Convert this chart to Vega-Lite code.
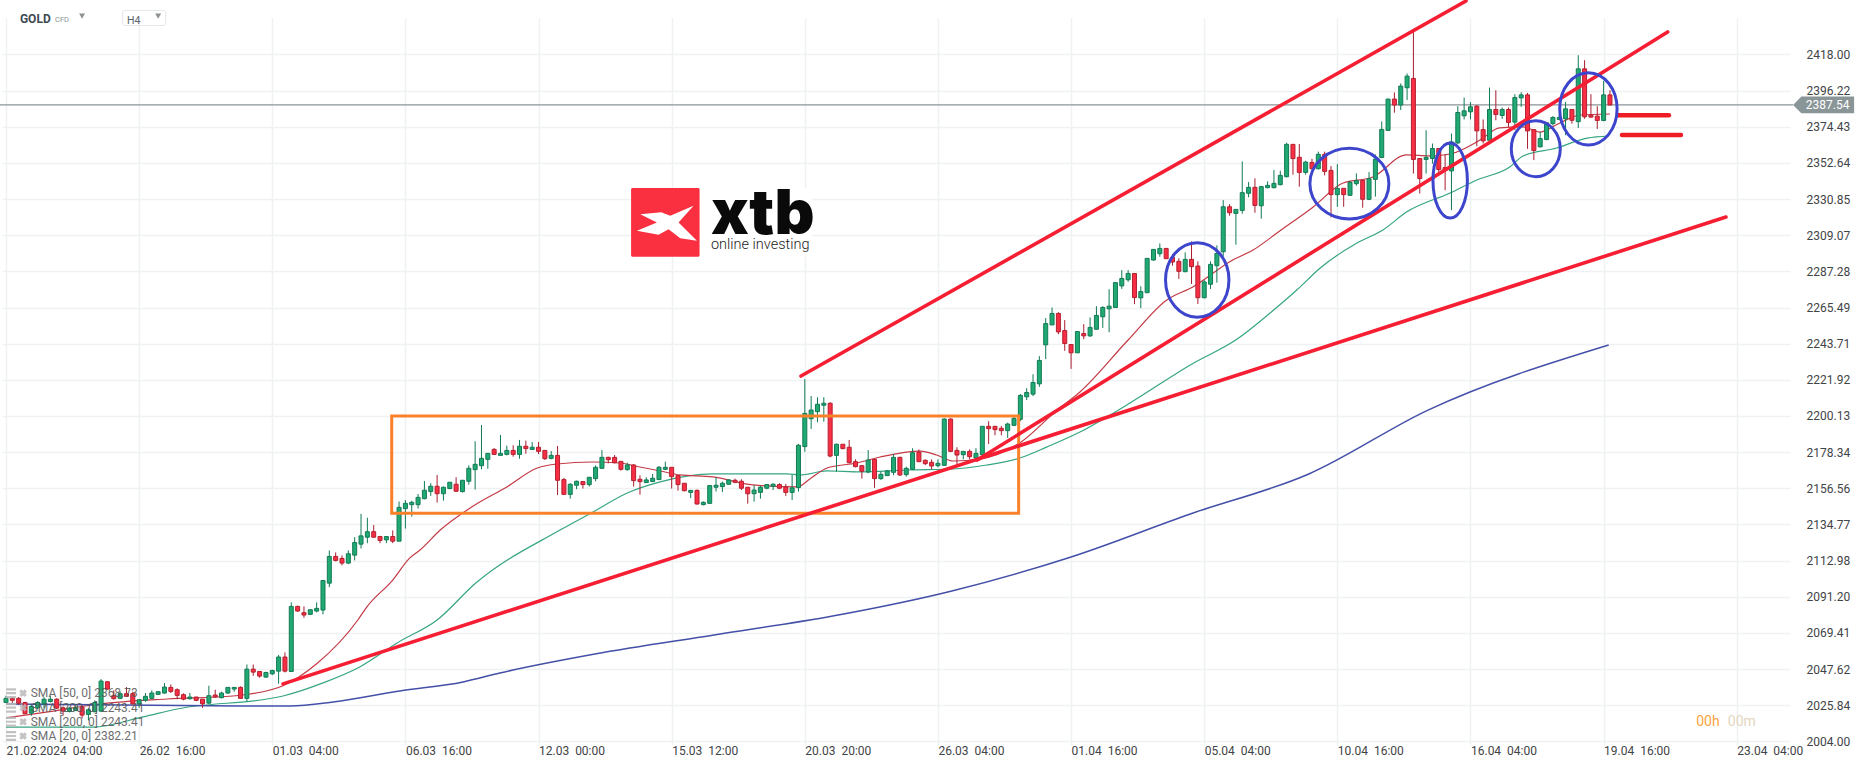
{
  "$schema": "https://vega.github.io/schema/vega-lite/v6.json",
  "width": 1788,
  "height": 727,
  "autosize": {"type": "none"},
  "padding": {"left": 2, "top": 18, "right": 76, "bottom": 22},
  "background": "#ffffff",
  "config": {
    "view": {"stroke": null},
    "font": "Roboto",
    "axis": {"title": null, "domain": false, "ticks": false, "gridColor": "#f0f1f2", "gridWidth": 1.5, "labelFont": "Roboto", "labelFontSize": 12, "labelColor": "#3f4446", "labelOverlap": false, "labelBound": false, "labelFlush": false}
  },
  "datasets": {
    "candles": [
      {"i":0,"o":2027.5,"c":2030.0,"h":2031.6,"l":2027.1},{"i":1,"o":2030.0,"c":2028.8,"h":2030.8,"l":2027.1},{"i":2,"o":2030.0,"c":2027.1,"h":2030.8,"l":2026.1},{"i":3,"o":2027.5,"c":2020.7,"h":2027.9,"l":2020.7},{"i":4,"o":2021.1,"c":2025.1,"h":2026.1,"l":2019.5},{"i":5,"o":2024.3,"c":2027.5,"h":2028.3,"l":2023.5},{"i":6,"o":2026.7,"c":2029.5,"h":2030.8,"l":2024.1},{"i":7,"o":2028.1,"c":2029.5,"h":2031.6,"l":2027.5},{"i":8,"o":2029.5,"c":2024.1,"h":2030.1,"l":2023.5},{"i":9,"o":2024.3,"c":2022.3,"h":2025.1,"l":2019.5},
      {"i":10,"o":2022.1,"c":2024.1,"h":2024.7,"l":2021.5},{"i":11,"o":2022.7,"c":2024.3,"h":2026.1,"l":2022.3},{"i":12,"o":2024.7,"c":2019.9,"h":2026.1,"l":2017.9},{"i":13,"o":2020.3,"c":2023.1,"h":2024.1,"l":2016.7},{"i":14,"o":2021.9,"c":2027.5,"h":2028.8,"l":2021.9},{"i":15,"o":2022.3,"c":2040.4,"h":2041.6,"l":2021.9},{"i":16,"o":2040.0,"c":2035.6,"h":2040.4,"l":2035.2},{"i":17,"o":2031.6,"c":2029.8,"h":2034.8,"l":2029.2},{"i":18,"o":2030.0,"c":2032.8,"h":2034.2,"l":2029.5},{"i":19,"o":2032.8,"c":2031.2,"h":2036.8,"l":2030.8},
      {"i":20,"o":2032.8,"c":2026.7,"h":2034.0,"l":2026.3},{"i":21,"o":2026.7,"c":2029.2,"h":2029.5,"l":2024.3},{"i":22,"o":2028.8,"c":2031.2,"h":2033.2,"l":2027.9},{"i":23,"o":2030.0,"c":2033.2,"h":2034.8,"l":2029.5},{"i":24,"o":2032.4,"c":2034.0,"h":2034.4,"l":2032.0},{"i":25,"o":2033.2,"c":2036.8,"h":2039.2,"l":2032.8},{"i":26,"o":2036.6,"c":2034.2,"h":2038.4,"l":2033.2},{"i":27,"o":2035.2,"c":2031.8,"h":2036.0,"l":2029.5},{"i":28,"o":2032.2,"c":2029.5,"h":2033.0,"l":2028.8},{"i":29,"o":2029.8,"c":2030.8,"h":2033.2,"l":2029.2},
      {"i":30,"o":2030.8,"c":2028.8,"h":2030.8,"l":2028.3},{"i":31,"o":2029.5,"c":2026.7,"h":2029.5,"l":2024.3},{"i":32,"o":2027.1,"c":2031.6,"h":2037.6,"l":2026.7},{"i":33,"o":2032.0,"c":2030.8,"h":2035.2,"l":2030.4},{"i":34,"o":2030.4,"c":2033.2,"h":2034.0,"l":2030.0},{"i":35,"o":2033.2,"c":2036.6,"h":2036.6,"l":2032.8},{"i":36,"o":2035.6,"c":2036.6,"h":2036.8,"l":2034.0},{"i":37,"o":2036.6,"c":2030.0,"h":2037.2,"l":2030.0},{"i":38,"o":2030.0,"c":2047.6,"h":2050.4,"l":2028.1},{"i":39,"o":2047.6,"c":2045.8,"h":2050.4,"l":2043.6},
      {"i":40,"o":2046.2,"c":2043.4,"h":2046.2,"l":2042.4},{"i":41,"o":2042.8,"c":2045.6,"h":2046.0,"l":2042.4},{"i":42,"o":2044.8,"c":2046.8,"h":2047.2,"l":2044.0},{"i":43,"o":2046.4,"c":2054.9,"h":2056.1,"l":2038.8},{"i":44,"o":2054.9,"c":2046.4,"h":2057.7,"l":2045.6},{"i":45,"o":2046.2,"c":2085.4,"h":2087.8,"l":2046.2},{"i":46,"o":2085.4,"c":2082.6,"h":2085.8,"l":2082.2},{"i":47,"o":2081.6,"c":2080.2,"h":2085.4,"l":2078.5},{"i":48,"o":2080.6,"c":2083.4,"h":2083.4,"l":2080.2},{"i":49,"o":2082.6,"c":2084.2,"h":2087.8,"l":2081.8},
      {"i":50,"o":2083.2,"c":2101.0,"h":2101.0,"l":2080.6},{"i":51,"o":2099.4,"c":2115.5,"h":2119.1,"l":2097.0},{"i":52,"o":2115.5,"c":2113.1,"h":2117.9,"l":2112.5},{"i":53,"o":2114.3,"c":2111.5,"h":2116.1,"l":2110.1},{"i":54,"o":2111.5,"c":2117.1,"h":2119.1,"l":2110.9},{"i":55,"o":2116.3,"c":2123.9,"h":2127.1,"l":2113.1},{"i":56,"o":2122.9,"c":2127.9,"h":2141.2,"l":2120.3},{"i":57,"o":2127.1,"c":2130.4,"h":2138.8,"l":2123.5},{"i":58,"o":2130.4,"c":2127.1,"h":2134.4,"l":2126.7},{"i":59,"o":2127.5,"c":2125.1,"h":2127.9,"l":2123.5},
      {"i":60,"o":2125.5,"c":2127.5,"h":2127.5,"l":2123.5},{"i":61,"o":2127.5,"c":2124.7,"h":2131.2,"l":2123.5},{"i":62,"o":2124.7,"c":2145.1,"h":2148.6,"l":2124.7},{"i":63,"o":2144.3,"c":2147.5,"h":2149.5,"l":2132.3},{"i":64,"o":2146.7,"c":2148.1,"h":2149.1,"l":2139.5},{"i":65,"o":2146.7,"c":2151.1,"h":2153.1,"l":2144.3},{"i":66,"o":2150.3,"c":2155.4,"h":2161.0,"l":2149.9},{"i":67,"o":2154.6,"c":2157.8,"h":2159.6,"l":2152.0},{"i":68,"o":2157.8,"c":2153.3,"h":2164.6,"l":2148.0},{"i":69,"o":2153.3,"c":2157.2,"h":2157.6,"l":2149.1},
      {"i":70,"o":2156.4,"c":2160.2,"h":2160.2,"l":2156.0},{"i":71,"o":2159.0,"c":2154.8,"h":2163.2,"l":2154.3},{"i":72,"o":2154.6,"c":2161.4,"h":2161.4,"l":2154.0},{"i":73,"o":2160.8,"c":2168.6,"h":2170.4,"l":2158.8},{"i":74,"o":2167.8,"c":2171.0,"h":2184.9,"l":2155.8},{"i":75,"o":2170.2,"c":2174.6,"h":2194.7,"l":2168.0},{"i":76,"o":2174.0,"c":2177.6,"h":2177.6,"l":2168.4},{"i":77,"o":2180.0,"c":2177.0,"h":2180.8,"l":2176.6},{"i":78,"o":2176.4,"c":2177.6,"h":2188.7,"l":2176.4},{"i":79,"o":2177.0,"c":2179.4,"h":2182.3,"l":2176.4},
      {"i":80,"o":2179.4,"c":2177.0,"h":2182.5,"l":2175.6},{"i":81,"o":2177.0,"c":2181.9,"h":2185.7,"l":2174.4},{"i":82,"o":2181.9,"c":2180.5,"h":2185.3,"l":2177.4},{"i":83,"o":2180.0,"c":2181.3,"h":2184.5,"l":2179.6},{"i":84,"o":2181.3,"c":2178.8,"h":2184.5,"l":2177.2},{"i":85,"o":2179.4,"c":2174.4,"h":2179.4,"l":2173.6},{"i":86,"o":2174.6,"c":2176.4,"h":2179.0,"l":2174.0},{"i":87,"o":2176.4,"c":2161.4,"h":2182.1,"l":2152.5},{"i":88,"o":2161.8,"c":2152.9,"h":2162.8,"l":2152.7},{"i":89,"o":2152.9,"c":2159.0,"h":2159.6,"l":2150.3},
      {"i":90,"o":2158.4,"c":2160.8,"h":2161.2,"l":2156.0},{"i":91,"o":2160.6,"c":2158.8,"h":2160.6,"l":2156.4},{"i":92,"o":2158.8,"c":2163.2,"h":2163.2,"l":2157.6},{"i":93,"o":2162.4,"c":2169.2,"h":2170.4,"l":2160.8},{"i":94,"o":2168.6,"c":2175.2,"h":2179.6,"l":2168.4},{"i":95,"o":2175.2,"c":2173.8,"h":2175.6,"l":2171.6},{"i":96,"o":2175.2,"c":2172.0,"h":2176.6,"l":2171.6},{"i":97,"o":2172.8,"c":2168.0,"h":2172.8,"l":2167.2},{"i":98,"o":2167.8,"c":2170.6,"h":2172.0,"l":2167.2},{"i":99,"o":2170.6,"c":2161.2,"h":2171.2,"l":2157.6},
      {"i":100,"o":2162.0,"c":2160.6,"h":2164.4,"l":2152.7},{"i":101,"o":2160.0,"c":2161.6,"h":2163.2,"l":2160.0},{"i":102,"o":2160.6,"c":2162.6,"h":2165.2,"l":2160.6},{"i":103,"o":2161.8,"c":2169.2,"h":2170.0,"l":2161.6},{"i":104,"o":2168.0,"c":2169.2,"h":2172.6,"l":2167.6},{"i":105,"o":2169.2,"c":2163.6,"h":2169.2,"l":2156.4},{"i":106,"o":2164.2,"c":2158.8,"h":2164.4,"l":2155.1},{"i":107,"o":2159.6,"c":2155.1,"h":2159.6,"l":2154.7},{"i":108,"o":2154.1,"c":2155.3,"h":2155.5,"l":2150.7},{"i":109,"o":2155.3,"c":2147.1,"h":2155.9,"l":2146.7},
      {"i":110,"o":2146.7,"c":2148.1,"h":2148.7,"l":2146.3},{"i":111,"o":2147.5,"c":2158.2,"h":2158.2,"l":2147.3},{"i":112,"o":2157.2,"c":2158.4,"h":2163.2,"l":2154.6},{"i":113,"o":2157.6,"c":2159.6,"h":2160.6,"l":2154.3},{"i":114,"o":2159.0,"c":2161.6,"h":2162.0,"l":2158.6},{"i":115,"o":2161.4,"c":2160.2,"h":2162.4,"l":2159.6},{"i":116,"o":2160.8,"c":2156.6,"h":2162.0,"l":2155.5},{"i":117,"o":2157.2,"c":2153.3,"h":2157.2,"l":2147.3},{"i":118,"o":2153.3,"c":2155.5,"h":2158.4,"l":2148.5},{"i":119,"o":2154.1,"c":2157.2,"h":2158.0,"l":2150.3},
      {"i":120,"o":2156.6,"c":2158.8,"h":2159.2,"l":2156.0},{"i":121,"o":2157.8,"c":2159.0,"h":2159.6,"l":2155.5},{"i":122,"o":2158.8,"c":2156.6,"h":2159.6,"l":2156.0},{"i":123,"o":2157.4,"c":2154.1,"h":2159.2,"l":2152.0},{"i":124,"o":2154.1,"c":2156.8,"h":2164.6,"l":2149.5},{"i":125,"o":2157.0,"c":2182.5,"h":2183.3,"l":2154.6},{"i":126,"o":2181.7,"c":2201.7,"h":2222.4,"l":2178.6},{"i":127,"o":2198.5,"c":2203.7,"h":2212.2,"l":2192.3},{"i":128,"o":2202.7,"c":2207.2,"h":2211.4,"l":2196.3},{"i":129,"o":2206.6,"c":2207.8,"h":2211.4,"l":2196.7},
      {"i":130,"o":2207.8,"c":2176.0,"h":2208.4,"l":2175.2},{"i":131,"o":2176.4,"c":2183.1,"h":2183.5,"l":2166.6},{"i":132,"o":2183.1,"c":2180.5,"h":2183.1,"l":2180.0},{"i":133,"o":2181.3,"c":2172.0,"h":2185.7,"l":2171.6},{"i":134,"o":2172.6,"c":2169.6,"h":2174.0,"l":2169.2},{"i":135,"o":2170.2,"c":2166.8,"h":2170.6,"l":2162.4},{"i":136,"o":2166.4,"c":2173.6,"h":2179.6,"l":2165.6},{"i":137,"o":2174.0,"c":2162.4,"h":2174.0,"l":2156.8},{"i":138,"o":2162.4,"c":2165.0,"h":2166.6,"l":2161.6},{"i":139,"o":2164.2,"c":2167.0,"h":2167.6,"l":2164.0},
      {"i":140,"o":2166.2,"c":2175.2,"h":2177.2,"l":2164.4},{"i":141,"o":2175.2,"c":2164.6,"h":2175.6,"l":2164.0},{"i":142,"o":2164.8,"c":2168.6,"h":2169.6,"l":2163.6},{"i":143,"o":2168.0,"c":2178.0,"h":2180.7,"l":2167.6},{"i":144,"o":2178.4,"c":2172.6,"h":2180.0,"l":2172.4},{"i":145,"o":2173.4,"c":2171.4,"h":2174.0,"l":2170.6},{"i":146,"o":2172.2,"c":2170.0,"h":2174.0,"l":2168.0},{"i":147,"o":2170.2,"c":2171.6,"h":2174.0,"l":2169.2},{"i":148,"o":2170.4,"c":2198.3,"h":2198.7,"l":2170.0},{"i":149,"o":2198.3,"c":2178.8,"h":2198.7,"l":2178.4},
      {"i":150,"o":2179.4,"c":2176.6,"h":2181.3,"l":2170.6},{"i":151,"o":2176.8,"c":2178.8,"h":2178.8,"l":2174.0},{"i":152,"o":2178.8,"c":2175.6,"h":2180.0,"l":2174.0},{"i":153,"o":2174.8,"c":2177.6,"h":2180.7,"l":2174.0},{"i":154,"o":2176.8,"c":2193.9,"h":2193.9,"l":2176.4},{"i":155,"o":2193.9,"c":2192.5,"h":2196.9,"l":2183.3},{"i":156,"o":2193.9,"c":2191.9,"h":2193.9,"l":2188.5},{"i":157,"o":2192.7,"c":2191.3,"h":2194.1,"l":2188.5},{"i":158,"o":2191.3,"c":2195.3,"h":2196.1,"l":2186.9},{"i":159,"o":2194.5,"c":2198.7,"h":2200.1,"l":2194.1},
      {"i":160,"o":2198.1,"c":2212.5,"h":2213.4,"l":2197.0},{"i":161,"o":2211.7,"c":2214.3,"h":2216.9,"l":2209.7},{"i":162,"o":2213.3,"c":2220.3,"h":2225.3,"l":2212.1},{"i":163,"o":2219.5,"c":2233.6,"h":2236.2,"l":2217.7},{"i":164,"o":2243.0,"c":2255.8,"h":2259.1,"l":2234.4},{"i":165,"o":2255.0,"c":2261.9,"h":2265.5,"l":2255.0},{"i":166,"o":2261.9,"c":2250.8,"h":2262.7,"l":2249.4},{"i":167,"o":2251.6,"c":2243.8,"h":2257.9,"l":2239.4},{"i":168,"o":2243.2,"c":2238.2,"h":2243.2,"l":2228.5},{"i":169,"o":2238.2,"c":2251.0,"h":2251.0,"l":2238.2},
      {"i":170,"o":2249.8,"c":2248.4,"h":2255.5,"l":2246.4},{"i":171,"o":2248.4,"c":2253.5,"h":2259.5,"l":2247.8},{"i":172,"o":2252.4,"c":2260.7,"h":2266.3,"l":2252.2},{"i":173,"o":2259.9,"c":2265.5,"h":2266.3,"l":2253.2},{"i":174,"o":2264.7,"c":2266.3,"h":2276.5,"l":2250.6},{"i":175,"o":2265.5,"c":2280.5,"h":2280.5,"l":2265.5},{"i":176,"o":2278.5,"c":2283.0,"h":2288.0,"l":2276.7},{"i":177,"o":2282.2,"c":2286.0,"h":2288.0,"l":2281.0},{"i":178,"o":2286.0,"c":2271.5,"h":2286.0,"l":2267.5},{"i":179,"o":2271.3,"c":2275.1,"h":2278.3,"l":2265.1},
      {"i":180,"o":2274.4,"c":2295.1,"h":2295.1,"l":2274.4},{"i":181,"o":2294.1,"c":2300.5,"h":2300.5,"l":2293.7},{"i":182,"o":2297.9,"c":2301.1,"h":2304.1,"l":2296.1},{"i":183,"o":2301.1,"c":2294.9,"h":2301.1,"l":2294.9},{"i":184,"o":2295.7,"c":2292.9,"h":2297.7,"l":2290.7},{"i":185,"o":2293.3,"c":2287.3,"h":2295.1,"l":2282.7},{"i":186,"o":2287.1,"c":2294.5,"h":2298.7,"l":2286.7},{"i":187,"o":2294.5,"c":2290.1,"h":2305.3,"l":2279.7},{"i":188,"o":2290.5,"c":2271.4,"h":2293.3,"l":2267.6},{"i":189,"o":2271.4,"c":2280.9,"h":2282.1,"l":2271.0},
      {"i":190,"o":2279.5,"c":2291.5,"h":2293.3,"l":2276.6},{"i":191,"o":2290.7,"c":2298.1,"h":2302.9,"l":2280.5},{"i":192,"o":2299.1,"c":2326.2,"h":2330.2,"l":2296.1},{"i":193,"o":2326.2,"c":2322.6,"h":2327.8,"l":2320.8},{"i":194,"o":2322.2,"c":2324.6,"h":2324.6,"l":2303.3},{"i":195,"o":2324.0,"c":2334.7,"h":2353.5,"l":2322.0},{"i":196,"o":2334.3,"c":2337.9,"h":2341.1,"l":2331.9},{"i":197,"o":2337.9,"c":2327.0,"h":2343.3,"l":2322.6},{"i":198,"o":2326.8,"c":2338.3,"h":2338.7,"l":2319.0},{"i":199,"o":2337.7,"c":2339.1,"h":2341.5,"l":2337.3},
      {"i":200,"o":2337.7,"c":2340.3,"h":2348.3,"l":2337.3},{"i":201,"o":2339.5,"c":2345.1,"h":2347.9,"l":2339.1},{"i":202,"o":2344.3,"c":2363.8,"h":2364.8,"l":2343.9},{"i":203,"o":2363.8,"c":2355.2,"h":2363.8,"l":2345.5},{"i":204,"o":2356.0,"c":2346.9,"h":2364.0,"l":2338.3},{"i":205,"o":2346.9,"c":2353.1,"h":2353.9,"l":2345.5},{"i":206,"o":2352.9,"c":2349.1,"h":2355.1,"l":2348.7},{"i":207,"o":2349.1,"c":2357.8,"h":2359.4,"l":2348.7},{"i":208,"o":2357.8,"c":2347.5,"h":2359.4,"l":2345.1},{"i":209,"o":2348.1,"c":2333.5,"h":2350.7,"l":2319.8},
      {"i":210,"o":2333.5,"c":2337.3,"h":2351.9,"l":2326.2},{"i":211,"o":2337.3,"c":2333.5,"h":2337.3,"l":2326.2},{"i":212,"o":2333.1,"c":2340.9,"h":2341.9,"l":2332.7},{"i":213,"o":2340.1,"c":2341.9,"h":2346.3,"l":2338.9},{"i":214,"o":2342.1,"c":2330.7,"h":2342.1,"l":2325.6},{"i":215,"o":2330.7,"c":2343.1,"h":2347.1,"l":2330.2},{"i":216,"o":2342.7,"c":2354.9,"h":2357.7,"l":2332.3},{"i":217,"o":2355.9,"c":2372.8,"h":2377.6,"l":2355.5},{"i":218,"o":2372.2,"c":2391.1,"h":2391.1,"l":2372.0},{"i":219,"o":2391.1,"c":2387.5,"h":2395.1,"l":2382.9},
      {"i":220,"o":2387.5,"c":2398.9,"h":2400.5,"l":2384.5},{"i":221,"o":2397.9,"c":2404.9,"h":2406.5,"l":2390.5},{"i":222,"o":2403.5,"c":2354.7,"h":2431.6,"l":2346.2},{"i":223,"o":2355.3,"c":2343.2,"h":2355.3,"l":2334.2},{"i":224,"o":2354.7,"c":2355.9,"h":2372.3,"l":2346.2},{"i":225,"o":2355.3,"c":2361.3,"h":2364.3,"l":2352.2},{"i":226,"o":2361.3,"c":2348.6,"h":2361.3,"l":2346.2},{"i":227,"o":2349.8,"c":2348.2,"h":2357.9,"l":2336.2},{"i":228,"o":2347.8,"c":2365.3,"h":2370.3,"l":2324.1},{"i":229,"o":2364.7,"c":2383.0,"h":2386.8,"l":2363.9},
      {"i":230,"o":2381.0,"c":2384.0,"h":2392.0,"l":2378.8},{"i":231,"o":2383.4,"c":2386.4,"h":2389.2,"l":2378.8},{"i":232,"o":2386.8,"c":2371.9,"h":2387.4,"l":2362.7},{"i":233,"o":2372.7,"c":2365.9,"h":2378.8,"l":2364.3},{"i":234,"o":2366.3,"c":2384.8,"h":2398.0,"l":2365.3},{"i":235,"o":2384.8,"c":2381.8,"h":2396.4,"l":2378.3},{"i":236,"o":2381.2,"c":2384.8,"h":2386.0,"l":2379.2},{"i":237,"o":2384.8,"c":2377.0,"h":2386.0,"l":2374.3},{"i":238,"o":2377.2,"c":2392.0,"h":2394.0,"l":2372.3},{"i":239,"o":2391.8,"c":2393.6,"h":2395.2,"l":2386.4},
      {"i":240,"o":2393.6,"c":2371.9,"h":2394.8,"l":2361.1},{"i":241,"o":2372.7,"c":2360.1,"h":2372.7,"l":2354.3},{"i":242,"o":2362.3,"c":2367.3,"h":2371.3,"l":2361.9},{"i":243,"o":2366.7,"c":2376.8,"h":2377.3,"l":2366.3},{"i":244,"o":2376.3,"c":2380.0,"h":2380.8,"l":2375.1},{"i":245,"o":2378.8,"c":2380.0,"h":2381.4,"l":2378.3},{"i":246,"o":2379.2,"c":2385.2,"h":2389.4,"l":2369.3},{"i":247,"o":2384.8,"c":2378.3,"h":2384.8,"l":2376.3},{"i":248,"o":2377.5,"c":2409.3,"h":2417.5,"l":2373.7},{"i":249,"o":2409.3,"c":2380.4,"h":2414.5,"l":2379.2},
      {"i":250,"o":2381.4,"c":2380.2,"h":2394.0,"l":2380.0},{"i":251,"o":2380.8,"c":2378.2,"h":2386.8,"l":2373.1},{"i":252,"o":2378.2,"c":2393.6,"h":2402.1,"l":2377.7},{"i":253,"o":2393.6,"c":2387.54,"h":2396.4,"l":2387.2}
    ],
    "sma20": [
      {"i":0,"p":2018.2},{"i":6.9,"p":2022.0},{"i":14.8,"p":2026.6},{"i":25.4,"p":2029.6},{"i":35.8,"p":2031.4},{"i":38.5,"p":2032.6},{"i":43.7,"p":2037.6},{"i":49.1,"p":2051.1},{"i":55.5,"p":2077.2},{"i":56.9,"p":2085.0},{"i":61,"p":2101.3},{"i":63.7,"p":2114.6},{"i":65.3,"p":2119.4},{"i":68.5,"p":2131.4},{"i":73.7,"p":2145.9},{"i":79,"p":2157.4},{"i":83.8,"p":2168.8},{"i":86.9,"p":2171.2},{"i":92.6,"p":2172.4},{"i":96.8,"p":2171.8},{"i":100,"p":2169.4},{"i":103.2,"p":2167},{"i":106.3,"p":2164.6},{"i":111.5,"p":2163.4},{"i":117.8,"p":2158.6},{"i":124.8,"p":2157.4},{"i":126.8,"p":2162.2},{"i":129.5,"p":2168.8},{"i":134.2,"p":2171.8},{"i":137.9,"p":2175.4},{"i":144.2,"p":2179},{"i":146.8,"p":2176.6},{"i":149.4,"p":2173},{"i":153.6,"p":2174.2},{"i":159.9,"p":2183.9},{"i":165.8,"p":2203.7},{"i":169.4,"p":2214.6},{"i":177,"p":2245.9},{"i":183.1,"p":2270},{"i":187.2,"p":2277.9},{"i":193.5,"p":2294.1},{"i":196.7,"p":2300.1},{"i":200.9,"p":2311.6},{"i":206.2,"p":2326.1},{"i":210.9,"p":2340.5},{"i":215.6,"p":2344.1},{"i":220.9,"p":2357.4},{"i":224.6,"p":2356.8},{"i":227.8,"p":2358},{"i":232.5,"p":2366.4},{"i":235.6,"p":2373.7},{"i":239.3,"p":2374.3},{"i":242,"p":2371.2},{"i":245.1,"p":2376.7},{"i":248.3,"p":2381.5},{"i":253,"p":2382.1}
    ],
    "sma50": [
      {"i":0,"p":2012.7},{"i":13.7,"p":2012.7},{"i":21.6,"p":2018.8},{"i":27,"p":2023.6},{"i":43.7,"p":2031.4},{"i":50,"p":2039.3},{"i":55.8,"p":2048.9},{"i":61.7,"p":2063.4},{"i":68,"p":2077.2},{"i":74.1,"p":2099.5},{"i":87.4,"p":2131.4},{"i":92.6,"p":2142.3},{"i":98,"p":2153.7},{"i":103.2,"p":2160.4},{"i":111.5,"p":2165.2},{"i":123.2,"p":2165.2},{"i":125.2,"p":2164.6},{"i":129.5,"p":2167},{"i":134.7,"p":2166.4},{"i":142.1,"p":2167.6},{"i":149.4,"p":2168.2},{"i":154.7,"p":2170.6},{"i":159.9,"p":2174.8},{"i":164.2,"p":2181.5},{"i":169.4,"p":2190.5},{"i":177.3,"p":2208},{"i":186.8,"p":2230.9},{"i":194.2,"p":2246.5},{"i":199.4,"p":2262.2},{"i":203.6,"p":2276},{"i":207.3,"p":2289.3},{"i":213.1,"p":2304.4},{"i":217.2,"p":2312.2},{"i":220.9,"p":2323},{"i":227.8,"p":2334.5},{"i":232,"p":2342.3},{"i":237.2,"p":2350.2},{"i":239.3,"p":2356.8},{"i":244.6,"p":2361.6},{"i":249.4,"p":2367.6},{"i":252.8,"p":2368.8}
    ],
    "sma200": [
      {"i":0,"p":2026.6},{"i":36.9,"p":2025.4},{"i":44.8,"p":2025.4},{"i":51.6,"p":2027.8},{"i":62.1,"p":2034.4},{"i":72.1,"p":2039.9},{"i":77.9,"p":2045.3},{"i":92.9,"p":2056.7},{"i":111.7,"p":2068.2},{"i":130.4,"p":2079.6},{"i":149.2,"p":2094.7},{"i":168,"p":2115.2},{"i":186.8,"p":2141.1},{"i":205.5,"p":2165.2},{"i":224.3,"p":2203.7},{"i":252.8,"p":2242.9}
    ],
    "trend": [
      {"id":"channel","i":125.4,"p":2224.2},{"id":"channel","i":230.3,"p":2450.2},
      {"id":"steep","i":153.2,"p":2173.6},{"id":"steep","i":262.1,"p":2431.5},
      {"id":"long","i":43.7,"p":2038.7},{"id":"long","i":271.3,"p":2320}
    ],
    "levels": [
      {"id":"upper","i":254.3,"p":2381.3},{"id":"upper","i":262.3,"p":2381.3},
      {"id":"lower","i":254.9,"p":2369.4},{"id":"lower","i":264.2,"p":2369.4}
    ],
    "smaLabels": [
      {"i":3.9,"p":2033.1,"t":"SMA [50, 0] 2368.73"},
      {"i":3.9,"p":2024.4,"t":"SMA [200, 0] 2243.41"},
      {"i":3.9,"p":2015.9,"t":"SMA [200, 0] 2243.41"},
      {"i":3.9,"p":2007.3,"t":"SMA [20, 0] 2382.21"}
    ],
    "smaIcons": [
      {"i":0.8,"p":2033.1},{"i":0.8,"p":2024.4},{"i":0.8,"p":2015.9},{"i":0.8,"p":2007.3}
    ],
    "smaCross": [
      {"i":2.7,"p":2033.1},{"i":2.7,"p":2024.4},{"i":2.7,"p":2015.9},{"i":2.7,"p":2007.3}
    ]
  },
  "encoding": {
    "x": {
      "field": "i",
      "type": "quantitative",
      "scale": {"domain": [-0.63, 281.4], "nice": false, "zero": false, "padding": 0},
      "axis": {
        "orient": "bottom",
        "values": [0,21,42,63,84,105,126,147,168,189,210,231,252,273],
        "grid": true,
        "labelAlign": "left",
        "labelBaseline": "top",
        "labelPadding": 0,
        "labelExpr": "{'0':'21.02.2024\u00a0\u00a004:00','21':'26.02\u00a0\u00a016:00','42':'01.03\u00a0\u00a004:00','63':'06.03\u00a0\u00a016:00','84':'12.03\u00a0\u00a000:00','105':'15.03\u00a0\u00a012:00','126':'20.03\u00a0\u00a020:00','147':'26.03\u00a0\u00a004:00','168':'01.04\u00a0\u00a016:00','189':'05.04\u00a0\u00a004:00','210':'10.04\u00a0\u00a016:00','231':'16.04\u00a0\u00a004:00','252':'19.04\u00a0\u00a016:00','273':'23.04\u00a0\u00a004:00'}[datum.value]"
      }
    },
    "y": {
      "field": "p",
      "type": "quantitative",
      "scale": {"domain": [2001.89, 2439.93], "nice": false, "zero": false},
      "axis": {
        "orient": "right",
        "values": [2418,2396.22,2374.43,2352.64,2330.85,2309.07,2287.28,2265.49,2243.71,2221.92,2200.13,2178.34,2156.56,2134.77,2112.98,2091.2,2069.41,2047.62,2025.84,2004],
        "format": ".2f",
        "grid": true,
        "labelAlign": "left",
        "labelPadding": 16
      }
    }
  },
  "layer": [
    {
      "data": {"values": [{"i":109.4,"i2":127.1,"p":2337.5,"p2":2296.1}]},
      "mark": {"type": "rect", "color": "#ffffff"},
      "encoding": {"x2": {"field": "i2"}, "y2": {"field": "p2"}}
    },
    {
      "data": {"values": [{"i":98.6,"i2":109.4,"p":2337.5,"p2":2296.1}]},
      "mark": {"type": "rect", "color": "#fa3040", "cornerRadius": 1.5},
      "encoding": {"x2": {"field": "i2"}, "y2": {"field": "p2"}}
    },
    {
      "data": {"values": [{"i":104.3,"p":2316.3}]},
      "mark": {"type": "point", "filled": true, "opacity": 1, "color": "#ffffff", "size": 3721, "shape": "M-0.885,-0.295L-0.197,-0.36L0.098,-0.24L0.863,-0.568L0.372,-0.022L0.973,0.579L0.426,0.492L0.044,0.197L-0.284,0.383L-0.995,0.251L-0.339,-0.022Z"}
    },
    {
      "data": {"values": [{"i":111.2,"p":2309.8,"t":"xtb"}]},
      "mark": {"type": "text", "font": "Inter", "fontWeight": 900, "fontSize": 62, "align": "left", "baseline": "alphabetic", "color": "#0a0a0a"},
      "encoding": {"text": {"field": "t"}}
    },
    {
      "data": {"values": [{"i":111.2,"p":2300.6,"t":"online investing"}]},
      "mark": {"type": "text", "font": "Roboto", "fontWeight": 300, "fontSize": 14.5, "align": "left", "baseline": "alphabetic", "color": "#222222"},
      "encoding": {"text": {"field": "t"}}
    },
    {
      "data": {"values": [{"i":-0.95,"i2":281.9,"p":2387.54}]},
      "mark": {"type": "rule", "color": "#8a9598", "strokeWidth": 1.2},
      "encoding": {"x2": {"field": "i2"}}
    },
    {
      "data": {"name": "sma50"},
      "mark": {"type": "line", "color": "#35a582", "strokeWidth": 1.2, "interpolate": "monotone"}
    },
    {
      "data": {"name": "sma20"},
      "mark": {"type": "line", "color": "#c43a45", "strokeWidth": 1.2, "interpolate": "monotone"}
    },
    {
      "data": {"name": "sma200"},
      "mark": {"type": "line", "color": "#4450a8", "strokeWidth": 1.5, "interpolate": "monotone"}
    },
    {
      "data": {"name": "candles"},
      "mark": {"type": "rule", "strokeWidth": 1},
      "encoding": {
        "y": {"field": "h", "type": "quantitative", "scale": {"domain": [2001.89, 2439.93], "nice": false, "zero": false}, "axis": {"orient": "right", "values": [2418,2396.22,2374.43,2352.64,2330.85,2309.07,2287.28,2265.49,2243.71,2221.92,2200.13,2178.34,2156.56,2134.77,2112.98,2091.2,2069.41,2047.62,2025.84,2004], "format": ".2f", "grid": true, "labelAlign": "left", "labelPadding": 16}},
        "y2": {"field": "l"},
        "color": {"condition": {"test": "datum.c >= datum.o", "value": "#0f7a55"}, "value": "#a81c30"}
      }
    },
    {
      "data": {"name": "candles"},
      "mark": {"type": "bar", "size": 4, "orient": "vertical", "strokeWidth": 1},
      "encoding": {
        "y": {"field": "o", "type": "quantitative", "scale": {"domain": [2001.89, 2439.93], "nice": false, "zero": false}, "axis": {"orient": "right", "values": [2418,2396.22,2374.43,2352.64,2330.85,2309.07,2287.28,2265.49,2243.71,2221.92,2200.13,2178.34,2156.56,2134.77,2112.98,2091.2,2069.41,2047.62,2025.84,2004], "format": ".2f", "grid": true, "labelAlign": "left", "labelPadding": 16}},
        "y2": {"field": "c"},
        "fill": {"condition": {"test": "datum.c >= datum.o", "value": "#20a972"}, "value": "#f82e45"},
        "stroke": {"condition": {"test": "datum.c >= datum.o", "value": "#137a55"}, "value": "#b3202f"}
      }
    },
    {
      "data": {"values": [{"i":60.84,"i2":159.73,"p":2200.13,"p2":2141.5}]},
      "mark": {"type": "rect", "fill": null, "fillOpacity": 0, "stroke": "#f9812a", "strokeWidth": 3},
      "encoding": {"x2": {"field": "i2"}, "y2": {"field": "p2"}}
    },
    {
      "data": {"name": "trend"},
      "mark": {"type": "line", "color": "#f61e32", "strokeWidth": 3.6, "strokeCap": "round"},
      "encoding": {"detail": {"field": "id"}}
    },
    {
      "data": {"name": "levels"},
      "mark": {"type": "line", "color": "#ee1c25", "strokeWidth": 4.5, "strokeCap": "round"},
      "encoding": {"detail": {"field": "id"}}
    },
    {
      "data": {"values": [{"i":187.9,"p":2282.1}]},
      "mark": {"type": "point", "color": "#3d45cc", "strokeWidth": 3, "opacity": 1, "size": 5565, "shape": "M-0.85,0A0.85,1 0 1,1 0.85,0A0.85,1 0 1,1 -0.85,0Z"}
    },
    {
      "data": {"values": [{"i":211.9,"p":2340.1}]},
      "mark": {"type": "point", "color": "#3d45cc", "strokeWidth": 3, "opacity": 1, "size": 6241, "shape": "M-1,0A1,0.894 0 1,1 1,0A1,0.894 0 1,1 -1,0Z"}
    },
    {
      "data": {"values": [{"i":227.8,"p":2342.0}]},
      "mark": {"type": "point", "color": "#3d45cc", "strokeWidth": 3, "opacity": 1, "size": 5625, "shape": "M-0.459,0A0.459,1 0 1,1 0.459,0A0.459,1 0 1,1 -0.459,0Z"}
    },
    {
      "data": {"values": [{"i":241.3,"p":2361.2}]},
      "mark": {"type": "point", "color": "#3d45cc", "strokeWidth": 3, "opacity": 1, "size": 3136, "shape": "M-0.875,0A0.875,1 0 1,1 0.875,0A0.875,1 0 1,1 -0.875,0Z"}
    },
    {
      "data": {"values": [{"i":249.6,"p":2385.2}]},
      "mark": {"type": "point", "color": "#3d45cc", "strokeWidth": 3, "opacity": 1, "size": 5242, "shape": "M-0.793,0A0.793,1 0 1,1 0.793,0A0.793,1 0 1,1 -0.793,0Z"}
    },
    {
      "data": {"values": [{"i":286.7,"p":2387.54}]},
      "mark": {"type": "point", "filled": true, "opacity": 1, "color": "#8a9598", "size": 3721, "shape": "M-1,0L-0.73,-0.274L1,-0.274L1,0.274L-0.73,0.274Z"}
    },
    {
      "data": {"values": [{"i":283.9,"p":2387.54,"t":"2387.54"}]},
      "mark": {"type": "text", "fontSize": 12, "align": "left", "baseline": "middle", "color": "#ffffff"},
      "encoding": {"text": {"field": "t"}}
    },
    {
      "data": {"name": "smaIcons"},
      "mark": {"type": "point", "filled": true, "opacity": 0.85, "color": "#b9b9b9", "size": 100, "shape": "M-1,-1H1V-0.55H-1ZM-1,-0.22H1V0.22H-1ZM-1,0.55H1V1H-1Z"}
    },
    {
      "data": {"name": "smaCross"},
      "mark": {"type": "point", "filled": true, "opacity": 0.85, "color": "#b9b9b9", "size": 60, "shape": "cross", "angle": 45}
    },
    {
      "data": {"name": "smaLabels"},
      "mark": {"type": "text", "fontSize": 12, "align": "left", "baseline": "middle", "color": "#555555", "opacity": 0.85},
      "encoding": {"text": {"field": "t"}}
    },
    {
      "data": {"values": [{"i":2.2,"p":2439.3,"t":"GOLD"}]},
      "mark": {"type": "text", "fontSize": 12, "fontWeight": "bold", "align": "left", "baseline": "middle", "color": "#3d4a52"},
      "encoding": {"text": {"field": "t"}}
    },
    {
      "data": {"values": [{"i":7.73,"p":2439.0,"t":"CFD"}]},
      "mark": {"type": "text", "fontSize": 7.5, "align": "left", "baseline": "middle", "color": "#8a9498"},
      "encoding": {"text": {"field": "t"}}
    },
    {
      "data": {"values": [{"i":12,"p":2441.1},{"i":24,"p":2441.1}]},
      "mark": {"type": "point", "filled": true, "opacity": 1, "color": "#8d9295", "size": 36, "shape": "triangle-down"}
    },
    {
      "data": {"values": [{"i":18.4,"i2":25.2,"p":2444.5,"p2":2435.4}]},
      "mark": {"type": "rect", "fillOpacity": 0, "stroke": "#e4e6e7", "strokeWidth": 1, "cornerRadius": 2},
      "encoding": {"x2": {"field": "i2"}, "y2": {"field": "p2"}}
    },
    {
      "data": {"values": [{"i":19.1,"p":2438.4,"t":"H4"}]},
      "mark": {"type": "text", "fontSize": 10.5, "align": "left", "baseline": "middle", "color": "#5a6469"},
      "encoding": {"text": {"field": "t"}}
    },
    {
      "data": {"values": [{"i":266.6,"p":2015.8,"t":"00h"}]},
      "mark": {"type": "text", "fontSize": 14, "align": "left", "baseline": "middle", "color": "#f7a33c"},
      "encoding": {"text": {"field": "t"}}
    },
    {
      "data": {"values": [{"i":271.6,"p":2015.8,"t":"00m"}]},
      "mark": {"type": "text", "fontSize": 14, "align": "left", "baseline": "middle", "color": "#e3d5c0"},
      "encoding": {"text": {"field": "t"}}
    }
  ]
}
